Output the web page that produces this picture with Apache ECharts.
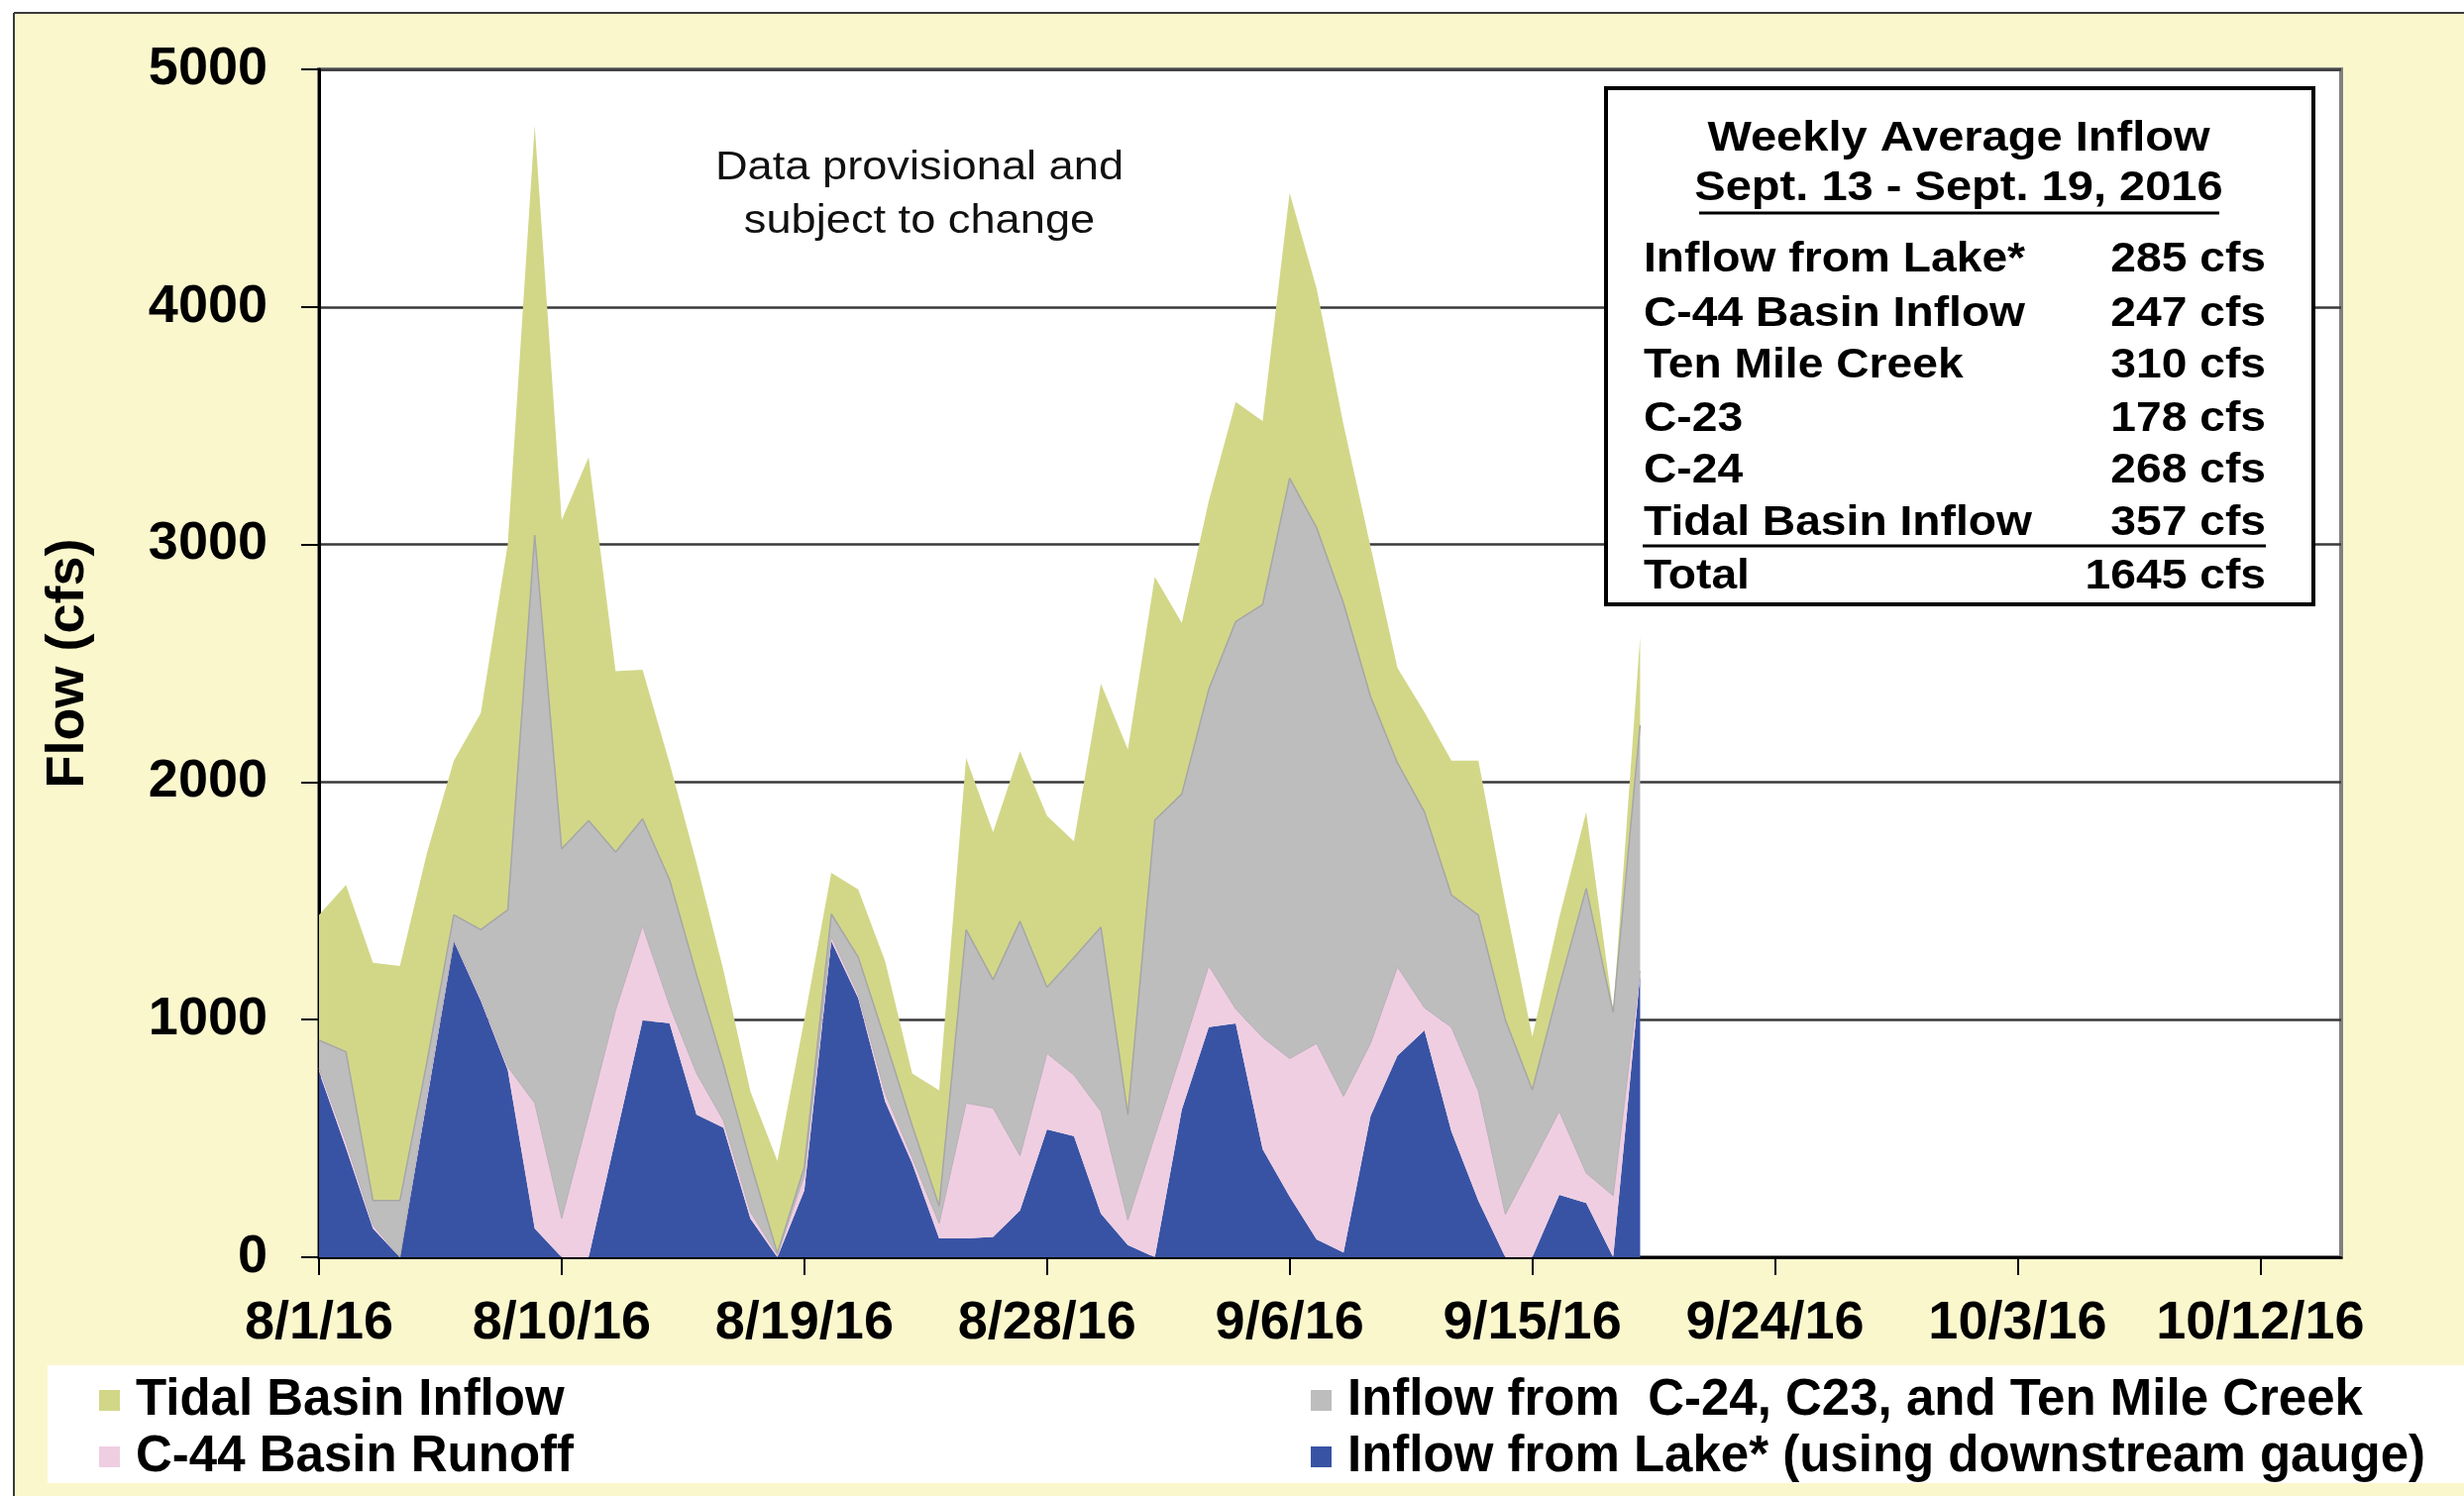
<!DOCTYPE html>
<html>
<head>
<meta charset="utf-8">
<script src="https://cdn.jsdelivr.net/npm/echarts@6/dist/echarts.min.js"></script>
<style>
html,body{margin:0;padding:0;background:#fff;}
#chart{width:2487px;height:1510px;}
</style>
</head>
<body>
<div id="chart"></div>
<script>
// ---------- DATA ----------
const categories = [
'8/1/16','8/2/16','8/3/16','8/4/16','8/5/16','8/6/16','8/7/16','8/8/16','8/9/16','8/10/16',
'8/11/16','8/12/16','8/13/16','8/14/16','8/15/16','8/16/16','8/17/16','8/18/16','8/19/16','8/20/16',
'8/21/16','8/22/16','8/23/16','8/24/16','8/25/16','8/26/16','8/27/16','8/28/16','8/29/16','8/30/16',
'8/31/16','9/1/16','9/2/16','9/3/16','9/4/16','9/5/16','9/6/16','9/7/16','9/8/16','9/9/16',
'9/10/16','9/11/16','9/12/16','9/13/16','9/14/16','9/15/16','9/16/16','9/17/16','9/18/16','9/19/16',
'9/20/16','9/21/16','9/22/16','9/23/16','9/24/16','9/25/16','9/26/16','9/27/16','9/28/16','9/29/16',
'9/30/16','10/1/16','10/2/16','10/3/16','10/4/16','10/5/16','10/6/16','10/7/16','10/8/16','10/9/16',
'10/10/16','10/11/16','10/12/16','10/13/16','10/14/16','10/15/16'
];
// Inflow from Lake* (using downstream gauge)
const lakeInflow = [781,460,121,0,660,1330,1080,788,121,0,0,500,997,985,600,545,163,0,281,1330,1090,655,395,79,79,86,197,538,510,183,51,0,621,968,984,455,255,75,20,594,849,955,530,238,0,0,263,228,0,1190];
// C-44 Basin Runoff
const c44Runoff = [14,25,14,0,20,5,10,14,528,163,596,540,398,75,175,30,27,10,62,20,15,35,25,63,570,542,230,320,257,431,105,510,244,259,61,470,581,825,657,306,373,95,438,462,180,395,351,126,259,15];
// Inflow from C-24, C23, and Ten Mile Creek
const c24c23TenMile = [118,380,104,239,140,106,289,660,2391,1556,1242,666,450,530,415,235,210,7,37,95,158,224,135,73,730,540,987,278,494,776,444,1330,1085,1163,1631,1823,2443,2171,2075,1460,858,825,557,740,820,310,526,1199,771,1035];
// Tidal Basin Inflow
const tidalInflow = [528,702,1001,987,880,649,911,1538,1723,1384,1529,761,628,490,470,398,297,389,620,173,285,331,219,488,723,621,716,722,489,1024,1537,1024,720,793,924,772,1201,1006,751,632,400,420,565,650,490,223,290,322,5,370];

const seriesNames = ['Inflow from Lake* (using downstream gauge)','C-44 Basin Runoff','Inflow from  C-24, C23, and Ten Mile Creek','Tidal Basin Inflow'];
const yTicks = [0,1000,2000,3000,4000,5000];

const tableTitle = ['Weekly Average Inflow','Sept. 13 - Sept. 19, 2016'];
const tableLabels = ['Inflow from Lake*','C-44 Basin Inflow','Ten Mile Creek','C-23','C-24','Tidal Basin Inflow','Total'];
const tableValues = ['285 cfs','247 cfs','310 cfs','178 cfs','268 cfs','357 cfs','1645 cfs'];
const noteText = 'Data provisional and\nsubject to change';

// ---------- STYLE ----------
const FONT = "'Liberation Sans', Arial, Helvetica, sans-serif";
const colors = {lake:'#3953A4', c44:'#EFCEE2', grey:'#BDBDBD', tidal:'#D2D788'};
const bg = '#FBF7CD';

const chart = echarts.init(document.getElementById('chart'), null, {renderer:'canvas'});

const rowY = [262,317,369,423,475,528,582];
const graphics = [];
// outer white margin and frame
graphics.push({type:'rect', shape:{x:0,y:0,width:2487,height:12}, style:{fill:'#fff'}, z:0});
graphics.push({type:'rect', shape:{x:0,y:0,width:14,height:1510}, style:{fill:'#fff'}, z:0});
graphics.push({type:'line', shape:{x1:14,y1:13,x2:2487,y2:13}, style:{stroke:'#3a3a3a',lineWidth:2}, z:0});
graphics.push({type:'line', shape:{x1:14,y1:13,x2:14,y2:1510}, style:{stroke:'#3a3a3a',lineWidth:2}, z:0});
// legend box
graphics.push({type:'rect', shape:{x:48,y:1378,width:2439,height:119}, style:{fill:'#fff'}, z:0});
// note
graphics.push({type:'text', x:928, y:143, scaleX:1.13, style:{text:noteText, x:0, y:0, textAlign:'center', textVerticalAlign:'top', font:'40px '+FONT, lineHeight:54, fill:'#111'}, z:10});
// table box
graphics.push({type:'rect', shape:{x:1621,y:89,width:714,height:521}, style:{fill:'#fff',stroke:'#000',lineWidth:4}, z:10});
graphics.push({type:'text', x:1977, y:140, scaleX:1.12, style:{text:tableTitle[0], textAlign:'center', textVerticalAlign:'middle', font:'bold 42px '+FONT, fill:'#000'}, z:11});
graphics.push({type:'text', x:1977, y:190, scaleX:1.12, style:{text:tableTitle[1], textAlign:'center', textVerticalAlign:'middle', font:'bold 42px '+FONT, fill:'#000'}, z:11});
graphics.push({type:'line', shape:{x1:1715,y1:215,x2:2240,y2:215}, style:{stroke:'#000',lineWidth:3}, z:11});
tableLabels.forEach((t,i)=>{
  graphics.push({type:'text', x:1659, y:rowY[i], scaleX:1.1, style:{text:t, textAlign:'left', textVerticalAlign:'middle', font:'bold 42px '+FONT, fill:'#000'}, z:11});
  graphics.push({type:'text', x:2287, y:rowY[i], scaleX:1.1, style:{text:tableValues[i], textAlign:'right', textVerticalAlign:'middle', font:'bold 42px '+FONT, fill:'#000'}, z:11});
});
graphics.push({type:'line', shape:{x1:1658,y1:551,x2:2287,y2:551}, style:{stroke:'#000',lineWidth:3}, z:11});

function areaSeries(name, data, color, lineColor, lineWidth){
  return {
    name, type:'line', stack:'flow', data,
    showSymbol:false, symbol:'none', smooth:false,
    lineStyle:{width:lineWidth, color:lineColor},
    itemStyle:{color:color},
    areaStyle:{color:color, opacity:1},
    emphasis:{disabled:true},
    z:3
  };
}

const legendText = {fontSize:51, fontWeight:'bold', fontFamily:FONT, color:'#000', lineHeight:57, padding:[0,0,0,11]};

const option = {
  backgroundColor: bg,
  animation:false,
  grid:{left:322, right:124, top:70, bottom:241, show:true, backgroundColor:'#fff', borderColor:'#808080', borderWidth:4},
  legend:[
    {orient:'vertical', left:95, top:1380, itemWidth:21, itemHeight:21, itemGap:0, icon:'rect', textStyle:legendText, selectedMode:false,
     data:[{name:seriesNames[3], itemStyle:{color:colors.tidal}},{name:seriesNames[1], itemStyle:{color:colors.c44}}]},
    {orient:'vertical', left:1318, top:1380, itemWidth:21, itemHeight:21, itemGap:0, icon:'rect', textStyle:legendText, selectedMode:false,
     data:[{name:seriesNames[2], itemStyle:{color:colors.grey}},{name:seriesNames[0], itemStyle:{color:colors.lake}}]}
  ],
  xAxis:{
    type:'category', data:categories, boundaryGap:false,
    axisLine:{show:true, lineStyle:{color:'#000', width:3}},
    axisTick:{show:true, interval:8, length:18, lineStyle:{color:'#000', width:2}},
    axisLabel:{interval:8, fontSize:54, fontWeight:'bold', fontFamily:FONT, color:'#000', margin:40},
    splitLine:{show:false}
  },
  yAxis:{
    type:'value', min:yTicks[0], max:yTicks[yTicks.length-1], interval:1000,
    name:'Flow (cfs)', nameLocation:'middle', nameGap:226, nameRotate:90,
    nameTextStyle:{fontSize:54, fontWeight:'bold', fontFamily:FONT, color:'#000'},
    axisLine:{show:true, lineStyle:{color:'#000', width:3}},
    axisTick:{show:true, length:18, lineStyle:{color:'#000', width:2}},
    axisLabel:{fontSize:54, fontWeight:'bold', fontFamily:FONT, color:'#000', margin:52, formatter:(v)=>String(v)},
    splitLine:{show:true, lineStyle:{color:'#3a3a3a', width:2.5}}
  },
  series:[
    areaSeries(seriesNames[0], lakeInflow, colors.lake, colors.lake, 0),
    areaSeries(seriesNames[1], c44Runoff, colors.c44, '#B8B0B6', 1),
    areaSeries(seriesNames[2], c24c23TenMile, colors.grey, '#A6A6A6', 1.5),
    areaSeries(seriesNames[3], tidalInflow, colors.tidal, colors.tidal, 0)
  ],
  graphic: graphics
};
chart.setOption(option);
</script>
</body>
</html>
